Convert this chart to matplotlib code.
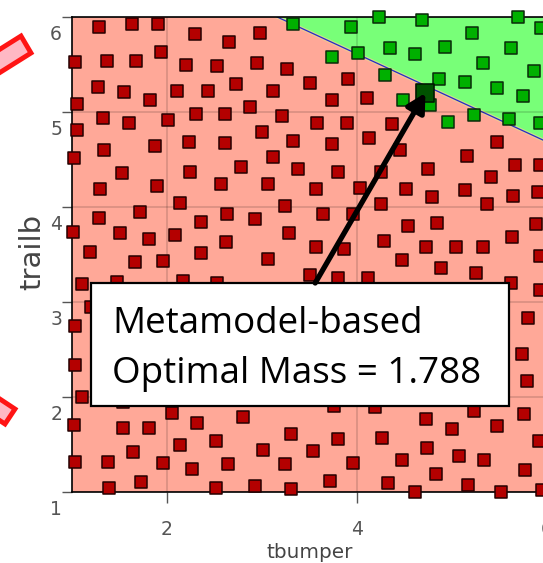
import matplotlib
matplotlib.use("Agg")
import matplotlib.pyplot as plt
import numpy as np
from matplotlib.patches import Polygon, Rectangle
from matplotlib.transforms import offset_copy

# ---- design points (tbumper, trailb) ----
infeasible_x = [1.28, 1.63, 1.91, 1.94, 1.03, 1.37, 1.67, 1.27, 1.55, 1.82, 1.05, 2.11, 1.33, 1.60,
                2.01, 1.05, 1.34, 1.87, 1.02, 1.53, 2.29, 2.98, 2.65, 2.20, 2.53, 2.95, 3.26, 3.91,
                3.51, 2.43, 2.73, 3.12, 3.74, 2.87, 2.31, 2.61, 3.21, 3.58, 3.89, 3.00, 2.23, 2.61,
                3.33, 3.74, 3.12, 2.78, 3.38, 2.24, 3.80, 3.06, 2.57, 4.11, 4.37, 4.13, 4.45, 5.47,
                5.16, 5.66, 5.93, 4.75, 5.41, 4.25, 4.03, 4.52, 4.79, 5.14, 5.64, 5.91, 4.25, 5.37,
                4.54, 4.84, 5.88, 4.28, 4.73, 5.04, 5.33, 5.63, 5.93, 4.47, 4.88, 5.25, 4.12, 5.62,
                5.93, 3.57, 2.14, 3.24, 2.63, 2.36, 2.93, 3.64, 3.96, 2.08, 3.28, 2.62, 3.57, 2.36,
                3.86, 3.06, 3.51, 3.80, 2.17, 2.53, 1.29, 1.89, 1.72, 1.28, 1.01, 1.51, 1.81, 1.19,
                1.66, 1.96, 1.11, 1.47, 1.20, 1.03, 1.03, 1.11, 1.02, 1.54, 1.81, 2.05, 2.14, 1.64,
                1.03, 1.38, 1.96, 1.73, 1.39, 1.54, 2.32, 2.80, 3.76, 2.52, 3.31, 3.01, 3.54, 3.80,
                2.64, 2.26, 3.24, 3.96, 2.52, 2.93, 3.31, 3.72, 5.79, 5.23, 4.19, 4.73, 5.00, 5.47,
                5.76, 4.26, 4.74, 5.07, 5.34, 5.92, 4.47, 4.83, 4.33, 5.17, 5.77, 4.61, 5.52, 5.95,
                5.80, 5.74]
infeasible_y = [5.89, 5.93, 5.93, 5.63, 5.53, 5.54, 5.54, 5.26, 5.21, 5.13, 5.08, 5.22, 4.94, 4.88,
                4.92, 4.81, 4.60, 4.64, 4.52, 4.36, 5.82, 5.83, 5.74, 5.49, 5.48, 5.52, 5.45, 5.35,
                5.31, 5.22, 5.29, 5.22, 5.13, 5.05, 4.98, 4.98, 4.96, 4.88, 4.88, 4.79, 4.68, 4.67,
                4.69, 4.66, 4.53, 4.42, 4.40, 4.37, 4.37, 4.24, 4.24, 5.15, 4.87, 4.73, 4.60, 4.68,
                4.54, 4.44, 4.44, 4.40, 4.32, 4.37, 4.20, 4.19, 4.11, 4.18, 4.12, 4.16, 4.03, 4.03,
                3.80, 3.83, 3.82, 3.64, 3.58, 3.58, 3.58, 3.68, 3.48, 3.44, 3.36, 3.31, 3.25, 3.20,
                3.13, 4.19, 4.04, 4.01, 3.93, 3.84, 3.87, 3.93, 3.93, 3.71, 3.73, 3.63, 3.58, 3.52,
                3.56, 3.45, 3.28, 3.25, 3.22, 3.20, 4.19, 4.22, 3.95, 3.88, 3.74, 3.73, 3.66, 3.53,
                3.42, 3.43, 3.19, 3.21, 2.95, 2.75, 2.34, 2.00, 1.71, 1.67, 1.67, 1.83, 1.49, 1.42,
                1.32, 1.32, 1.31, 1.11, 1.04, 1.95, 1.73, 1.79, 1.91, 1.54, 1.61, 1.44, 1.43, 1.56,
                1.29, 1.24, 1.29, 1.31, 1.04, 1.06, 1.03, 1.12, 2.17, 1.85, 1.89, 1.77, 1.66, 1.69,
                1.82, 1.57, 1.46, 1.38, 1.34, 1.54, 1.34, 1.19, 1.09, 1.07, 1.23, 1.00, 1.00, 1.02,
                2.83, 2.45]

feasible_x = [3.33, 3.94, 3.74, 4.01, 4.23, 4.68, 5.69, 5.21, 5.94, 4.35, 4.61, 4.93, 5.62,
              5.33, 5.86, 4.29, 4.86, 5.14, 5.47, 5.75, 4.48, 4.77, 5.23, 5.60, 5.93, 4.96]
feasible_y = [5.93, 5.89, 5.58, 5.62, 6.00, 5.97, 6.00, 5.83, 5.88, 5.67, 5.61, 5.68, 5.67,
              5.52, 5.43, 5.39, 5.35, 5.32, 5.25, 5.17, 5.13, 5.07, 4.97, 4.93, 4.88, 4.89]

optimum_x = 4.72
optimum_y = 5.20
optimal_mass = 1.788

# predicted feasibility boundary (straight segment through the design space)
boundary_x = [3.16, 6.0]
boundary_y = [6.0, 4.685]

xticks = [2, 4, 6]
yticks = [1, 2, 3, 4, 5, 6]

W, H, DPI = 543, 563, 100
fig = plt.figure(figsize=(W / DPI, H / DPI), dpi=DPI)
fig.patch.set_facecolor("white")

# axes placed in pixel units (right edge runs past the figure border)
ax_l, ax_r, ax_t, ax_b = 72, 547, 17, 492
ax = fig.add_axes([ax_l / W, 1 - ax_b / H, (ax_r - ax_l) / W, (ax_b - ax_t) / H])
ax.set_xlim(1, 6)
ax.set_ylim(1, 6)
ax.set_facecolor("#ffa898")

# feasible region above the boundary
green = Polygon([(boundary_x[0], boundary_y[0]), (6.0, 6.0), (boundary_x[1], boundary_y[1])],
                closed=True, facecolor="#78ff78", edgecolor="none", zorder=0.5)
ax.add_patch(green)
ax.plot(boundary_x, boundary_y, color="#e8d890", lw=2.6, alpha=0.7, zorder=0.8)
ax.plot(boundary_x, boundary_y, color="#2828c8", lw=0.9, zorder=0.9)

ax.set_axisbelow("line")
ax.grid(True, color="black", alpha=0.17, lw=1.1)

ax.scatter(infeasible_x, infeasible_y, marker="s", s=78, c="#b40000",
           edgecolors="#250000", linewidths=1.1, zorder=3, clip_on=False)
ax.scatter(feasible_x, feasible_y, marker="s", s=78, c="#00b000",
           edgecolors="#0a2a0a", linewidths=1.1, zorder=3, clip_on=False)
ax.scatter([optimum_x], [optimum_y], marker="s", s=150, c="#005200",
           edgecolors="#001a00", linewidths=1.2, zorder=3.5, clip_on=False)

ax.set_xticks(xticks)
ax.set_yticks(yticks)
ax.tick_params(axis="x", direction="out", length=8, width=1, colors="#555555",
               labelsize=13.5, pad=12)
ax.tick_params(axis="y", direction="out", length=7.2, width=1, colors="#555555",
               labelsize=13.5, pad=0)
for t in ax.yaxis.get_major_ticks():
    t.label1.set_verticalalignment("top")
    t.label1.set_transform(offset_copy(t.label1.get_transform(), fig=fig, x=0, y=-8,
                                       units="dots"))

for side in ["left", "bottom", "top"]:
    ax.spines[side].set_color("black")
    ax.spines[side].set_linewidth(1.2)

ax.set_xlabel("tbumper", fontsize=14.4, color="#444444")
ax.xaxis.set_label_coords((310 - ax_l) / (ax_r - ax_l), -(558 - ax_b) / (ax_b - ax_t))
ax.xaxis.label.set_verticalalignment("baseline")
ax.set_ylabel("trailb", fontsize=21, color="#444444")
ax.yaxis.set_label_coords(-(72 - 32) / (ax_r - ax_l), (ax_b - 252) / (ax_b - ax_t))
ax.yaxis.label.set_verticalalignment("center")

# callout box with the optimum
ax.add_patch(Rectangle((1.2, 1.905), 4.4, 1.295, facecolor="white", edgecolor="black",
                       lw=1.6, zorder=5, clip_on=False))
callout_font = dict(family=["Open Sans", "DejaVu Sans"], fontsize=26.5, color="black", zorder=6)
ax.text(1.42, 2.674, "Metamodel-based", va="baseline", ha="left", **callout_font)
ax.text(1.42, 2.147, f"Optimal Mass = {optimal_mass}", va="baseline", ha="left", **callout_font)
ax.annotate("", xy=(optimum_x, optimum_y), xytext=(3.56, 3.2),
            arrowprops=dict(arrowstyle="-|>,head_length=0.55,head_width=0.3", lw=3.8,
                            color="black", mutation_scale=20, shrinkA=0, shrinkB=0),
            zorder=7, annotation_clip=False)

# red outlined tabs along the left margin
def px_poly(points):
    return [(x / W, 1 - y / H) for x, y in points]

for pts in ([(21, 36), (31, 53), (-20, 85), (-30, 68)],
            [(15, 409), (5, 424), (-45, 391), (-35, 376)]):
    fig.patches.append(Polygon(px_poly(pts), closed=True, transform=fig.transFigure,
                               facecolor="#ffb8c4", edgecolor="#ff1414", lw=3.5))

fig.savefig("out.png", dpi=DPI)
